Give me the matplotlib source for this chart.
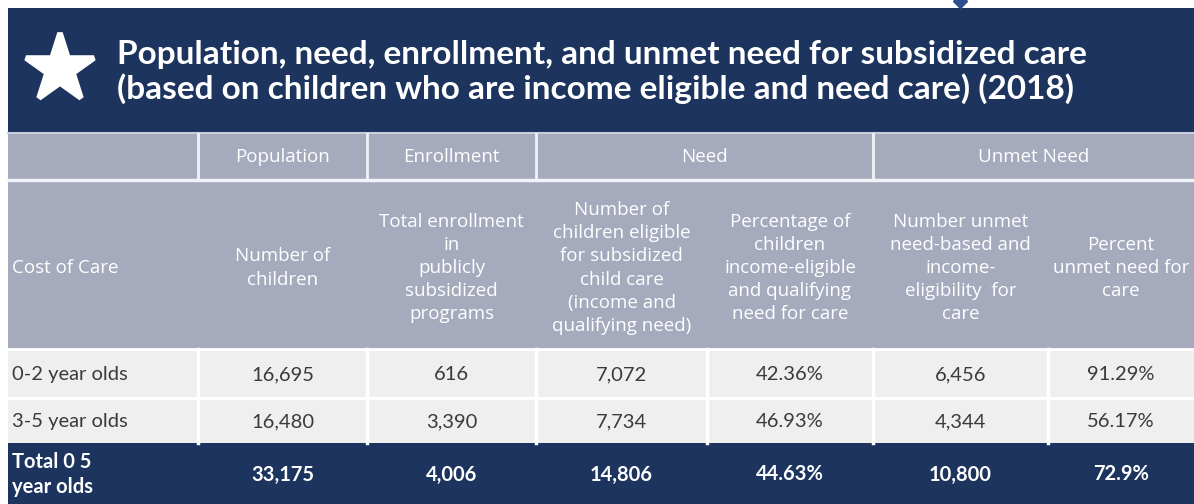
import matplotlib.pyplot as plt
from matplotlib.patches import Rectangle

plt.rcParams['font.family'] = ['Lato', 'DejaVu Sans']

# table data
title = ("Population, need, enrollment, and unmet need for subsidized care\n"
         "(based on children who are income eligible and need care) (2018)")
group_headers = ["", "Population", "Enrollment", "Need", "Unmet Need"]
group_spans = [1, 1, 1, 2, 2]
sub_headers = ["Cost of Care",
               "Number of\nchildren",
               "Total enrollment\nin\npublicly\nsubsidized\nprograms",
               "Number of\nchildren eligible\nfor subsidized\nchild care\n(income and\nqualifying need)",
               "Percentage of\nchildren\nincome-eligible\nand qualifying\nneed for care",
               "Number unmet\nneed-based and\nincome-\neligibility  for\ncare",
               "Percent\nunmet need for\ncare"]
age_groups = ["0-2 year olds", "3-5 year olds", "Total 0 5\nyear olds"]
population = [16695, 16480, 33175]
enrollment = [616, 3390, 4006]
eligible = [7072, 7734, 14806]
pct_eligible = [42.36, 46.93, 44.63]
unmet = [6456, 4344, 10800]
pct_unmet = [91.29, 56.17, 72.9]

# layout (pixels)
col_edges = [8, 198, 367, 536, 707, 873, 1048, 1194]
band = (8, 132)
head1 = (132, 179)
head2 = (181, 349)
row_edges = [349, 398, 443, 504]

navy = '#1c345e'
greyblue = '#a5aabd'
light = '#efefef'
dark_text = '#3a3a3a'
head_font = ['Open Sans', 'DejaVu Sans']

fig = plt.figure(figsize=(11.94, 5.04), dpi=100)
ax = fig.add_axes([0, 0, 1, 1])
ax.set_xlim(0, 1194)
ax.set_ylim(504, 0)
ax.axis('off')

def box(x0, x1, y0, y1, color):
    ax.add_patch(Rectangle((x0, y0), x1 - x0, y1 - y0, facecolor=color,
                           edgecolor='none'))

# title band
box(col_edges[0], col_edges[-1], band[0], band[1], navy)
star = ax.plot(60, 69, marker='*', ms=52, color='white', mec='white', mew=4)[0]
star.set_solid_joinstyle('round')
ax.plot(960, 1, marker='D', ms=7, color='#2e4f8e')
ax.text(117, 72, title, color='white', fontsize=24, fontweight='bold',
        va='center', ha='left', linespacing=1.2)

# header rows
box(col_edges[0], col_edges[-1], band[1], head2[1], greyblue)
ax.plot([col_edges[0], col_edges[-1]], [head1[1] + 1] * 2, color='#f2f3f8', lw=2.5)
ax.plot([col_edges[0], col_edges[-1]], [band[1] + 1] * 2, color='#c9cedc', lw=1.5)
ci = 0
for label, span in zip(group_headers, group_spans):
    x0, x1 = col_edges[ci], col_edges[ci + span]
    if ci > 0:
        ax.plot([x0, x0], [head1[0] + 2, head1[1]], color='#f2f3f8', lw=2)
    ax.text((x0 + x1) / 2, (head1[0] + head1[1]) / 2 + 1, label,
            color='white', fontsize=13.5, ha='center', va='center',
            family=head_font)
    ci += span

for i, label in enumerate(sub_headers):
    x0, x1 = col_edges[i], col_edges[i + 1]
    if i == 0:
        ax.text(x0 + 4, 268, label, color='white', fontsize=13.5,
                ha='left', va='center', family=head_font)
    else:
        ax.text((x0 + x1) / 2, 268, label, color='white', fontsize=13.5,
                ha='center', va='center', linespacing=1.36, family=head_font)

# body rows
columns = [population, enrollment, eligible, pct_eligible, unmet, pct_unmet]
fmt = ['{:,}', '{:,}', '{:,}', '{:g}%', '{:,}', '{:g}%']
for r, name in enumerate(age_groups):
    y0, y1 = row_edges[r], row_edges[r + 1]
    total = r == len(age_groups) - 1
    box(col_edges[0], col_edges[-1], y0, y1, navy if total else light)
    tc = 'white' if total else dark_text
    fw = 'bold' if total else 'normal'
    ym = (y0 + y1) / 2 + 1
    ax.text(col_edges[0] + 4, ym, name, color=tc, fontweight=fw,
            fontsize=14.5, ha='left', va='center', linespacing=1.3)
    for c, vals in enumerate(columns):
        x0, x1 = col_edges[c + 1], col_edges[c + 2]
        ax.text((x0 + x1) / 2, ym, fmt[c].format(vals[r]), color=tc,
                fontweight=fw, fontsize=14.5, ha='center', va='center')
        if not total:
            ax.plot([x0, x0], [y0, y1], color='white', lw=2.5)
    if not total:
        ax.plot([col_edges[0], col_edges[-1]], [y0, y0], color='white', lw=2)

plt.savefig('out.png', dpi=100)
